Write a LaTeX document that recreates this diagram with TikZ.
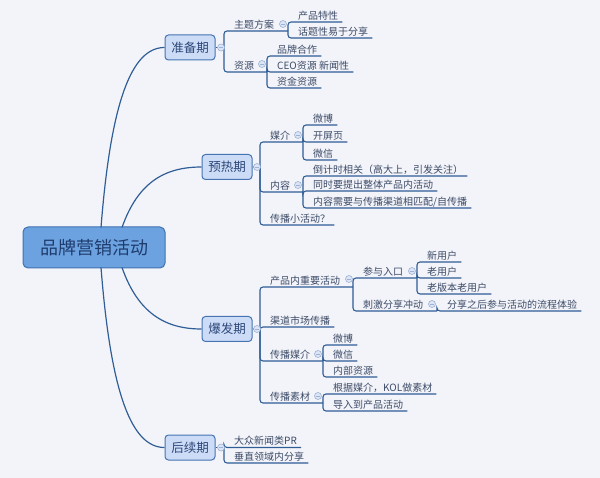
\documentclass[tikz,border=0pt]{standalone}
\usepackage{fontspec}
\newfontfamily\cjk{Noto Sans CJK SC}
\definecolor{bgC}{HTML}{F3F4F9}
\definecolor{lineC}{HTML}{2F5D96}
\definecolor{rootFill}{HTML}{6CA2E0}
\definecolor{rootDraw}{HTML}{3F71B0}
\definecolor{rootText}{HTML}{1F3C6E}
\definecolor{stFill}{HTML}{CCDCF7}
\definecolor{stDraw}{HTML}{4673B2}
\definecolor{stText}{HTML}{2C4677}
\definecolor{leafText}{HTML}{3C4B68}
\definecolor{togFill}{HTML}{DCE5F4}
\definecolor{togDraw}{HTML}{9DB2D6}
\tikzset{
  rootbox/.style={rectangle, rounded corners=5pt, fill=rootFill, draw=rootDraw, line width=1pt,
    minimum width=142pt, minimum height=41pt, inner sep=0pt, text=rootText,
    font=\cjk\fontsize{18}{20}\selectfont},
  stage/.style={rectangle, rounded corners=3.5pt, fill=stFill, draw=stDraw, line width=1pt,
    minimum width=50pt, minimum height=25pt, inner sep=0pt, text=stText,
    font=\cjk\fontsize{12.5}{14}\selectfont},
  leaf/.style={anchor=south west, inner xsep=4pt, inner ysep=1.5pt, text height=8pt, text depth=1pt,
    text=leafText, font=\cjk\fontsize{10}{12}\selectfont},
  ul/.style={draw=lineC, line width=1.1pt, rounded corners=3pt},
  trunk/.style={draw=lineC, line width=1.2pt},
  tog/.style={circle, inner sep=0pt, minimum size=7pt, fill=togFill, draw=togDraw, line width=0.6pt,
    path picture={\draw[togDraw, line width=0.7pt]
      ([xshift=-2pt]path picture bounding box.center) -- ([xshift=2pt]path picture bounding box.center);}}
}
\begin{document}
\begin{tikzpicture}[x=1pt,y=-1pt]
\fill[bgC] (0,0) rectangle (600,478);
\useasboundingbox (0,0) rectangle (600,478);

% root and stages
\node[rootbox] (root) at (94,247.5) {品牌营销活动};
\node[stage] (s1) at (190,47.5) {准备期};
\node[stage] (s2) at (227,167) {预热期};
\node[stage] (s3) at (227,329) {爆发期};
\node[stage] (s4) at (190,447.5) {后续期};

\coordinate (r1) at (101,227.5);
\coordinate (r2) at (122,227.5);
\coordinate (r3) at (122,267.5);
\coordinate (r4) at (101,267.5);
\draw[trunk] (r1) .. controls (111,100) and (132,47.5) .. (s1.west);
\draw[trunk] (r2) .. controls (138,182) and (165,167) .. (s2.west);
\draw[trunk] (r3) .. controls (138,313) and (165,329) .. (s3.west);
\draw[trunk] (r4) .. controls (111,395) and (132,447.5) .. (s4.west);

% junctions
\coordinate (j1) at (224,47.5);
\coordinate (j2) at (260,167);
\coordinate (j3) at (260,329);
\coordinate (j4) at (224,447.5);
\coordinate (ja) at (288,31);
\coordinate (jb) at (267,72);
\coordinate (jc) at (303,142);
\coordinate (jd) at (303,192);
\coordinate (je) at (353,287);
\coordinate (jf) at (417,278);
\coordinate (jg) at (437,311);
\coordinate (jh) at (323,361);
\coordinate (ji) at (323,403);

% ---- 准备期
\node[leaf] (a) at (230,31) {主题方案};
\node[leaf] (a1) at (294,22) {产品特性};
\node[leaf] (a2) at (294,38) {话题性易于分享};
\node[leaf] (b) at (230,72) {资源};
\node[leaf] (b1) at (273,56) {品牌合作};
\node[leaf] (b2) at (273,72) {CEO资源 新闻性};
\node[leaf] (b3) at (273,88) {资金资源};
\draw[ul] (s1.east) -- (j1);
\draw[ul] (j1) |- (a.south west) -- (ja);
\draw[ul] (j1) |- (b.south west) -- (jb);
\foreach \c in {a1,a2} \draw[ul] (ja) |- (\c.south west) -- (\c.south east);
\foreach \c in {b1,b2,b3} \draw[ul] (jb) |- (\c.south west) -- (\c.south east);

% ---- 预热期
\node[leaf] (c) at (266,142) {媒介};
\node[leaf] (c1) at (309,125) {微博};
\node[leaf] (c2) at (309,142) {开屏页};
\node[leaf] (c3) at (309,160) {微信};
\node[leaf] (d) at (266,192) {内容};
\node[leaf] (d1) at (309,176) {倒计时相关（高大上，引发关注）};
\node[leaf] (d2) at (309,191) {同时要提出整体产品内活动};
\node[leaf] (d3) at (309,208) {内容需要与传播渠道相匹配/自传播};
\node[leaf] (e) at (266,225) {传播小活动？};
\draw[ul] (s2.east) -- (j2);
\draw[ul] (j2) |- (c.south west) -- (jc);
\draw[ul] (j2) |- (d.south west) -- (jd);
\draw[ul] (j2) |- (e.south west) -- (e.south east);
\foreach \c in {c1,c2,c3} \draw[ul] (jc) |- (\c.south west) -- (\c.south east);
\foreach \c in {d1,d2,d3} \draw[ul] (jd) |- (\c.south west) -- (\c.south east);

% ---- 爆发期
\node[leaf] (f) at (266,287) {产品内重要活动};
\node[leaf] (g) at (359,278) {参与入口};
\node[leaf] (g1) at (423,262) {新用户};
\node[leaf] (g2) at (423,278) {老用户};
\node[leaf] (g3) at (423,294) {老版本老用户};
\node[leaf] (h) at (359,311) {刺激分享冲动};
\node[leaf] (h1) at (443,311) {分享之后参与活动的流程体验};
\node[leaf] (k) at (266,327) {渠道市场传播};
\node[leaf] (m) at (266,361) {传播媒介};
\node[leaf] (m1) at (329,345) {微博};
\node[leaf] (m2) at (329,361) {微信};
\node[leaf] (m3) at (329,377) {内部资源};
\node[leaf] (n) at (266,403) {传播素材};
\node[leaf] (n1) at (329,394) {根据媒介，KOL做素材};
\node[leaf] (n2) at (329,411) {导入到产品活动};
\draw[ul] (s3.east) -- (j3);
\draw[ul] (j3) |- (f.south west) -- (je);
\draw[ul] (j3) |- (k.south west) -- (k.south east);
\draw[ul] (j3) |- (m.south west) -- (jh);
\draw[ul] (j3) |- (n.south west) -- (ji);
\draw[ul] (je) |- (g.south west) -- (jf);
\draw[ul] (je) |- (h.south west) -- (jg);
\foreach \c in {g1,g2,g3} \draw[ul] (jf) |- (\c.south west) -- (\c.south east);
\draw[ul] (jg) |- (h1.south west) -- (h1.south east);
\foreach \c in {m1,m2,m3} \draw[ul] (jh) |- (\c.south west) -- (\c.south east);
\foreach \c in {n1,n2} \draw[ul] (ji) |- (\c.south west) -- (\c.south east);

% ---- 后续期
\node[leaf] (p1) at (230,447.5) {大众新闻类PR};
\node[leaf] (p2) at (230,463) {垂直领域内分享};
\draw[ul] (s4.east) -- (j4);
\foreach \c in {p1,p2} \draw[ul] (j4) |- (\c.south west) -- (\c.south east);

% collapse toggles
\node[tog] (t1) at (221,47.5) {};
\node[tog] (t2) at (257,167) {};
\node[tog] (t3) at (257,329) {};
\node[tog] (t4) at (221,447.5) {};
\node[tog] (ta) at (283,24) {};
\node[tog] (tb) at (262,64) {};
\node[tog] (tc) at (298,135) {};
\node[tog] (td) at (298,185) {};
\node[tog] (te) at (349,279) {};
\node[tog] (tf) at (412,271) {};
\node[tog] (tg) at (432,304) {};
\node[tog] (th) at (318,354) {};
\node[tog] (ti) at (318,396) {};
\end{tikzpicture}
\end{document}
